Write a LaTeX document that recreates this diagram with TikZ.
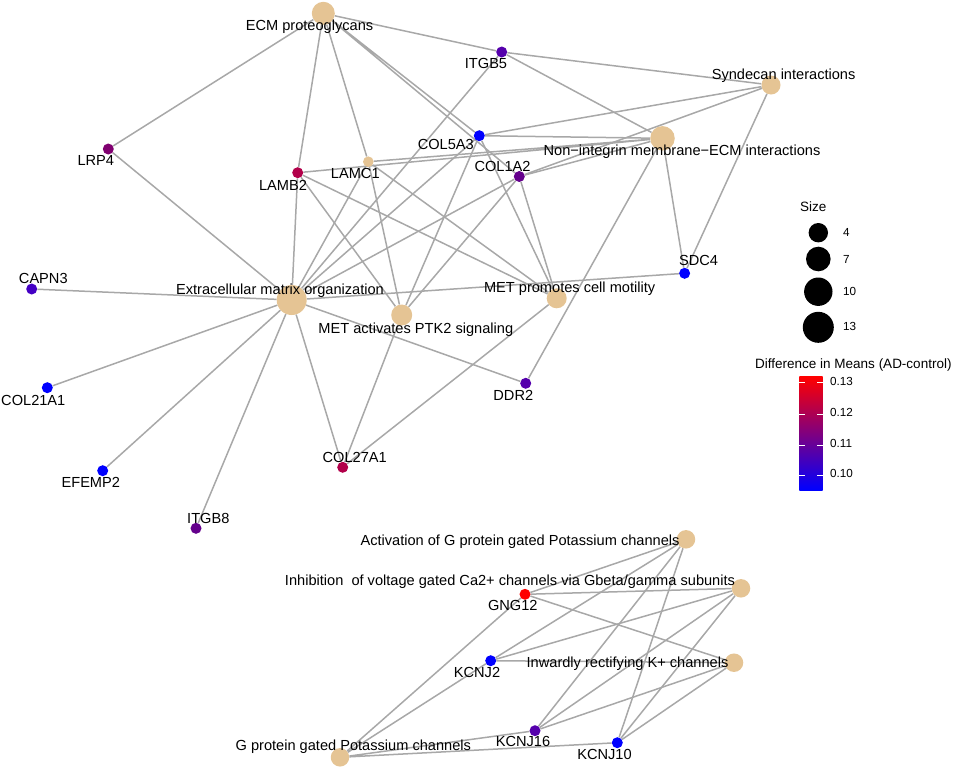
\documentclass[tikz,border=0pt]{standalone}
\usepackage{fontspec}
\setmainfont{Liberation Sans}
\usetikzlibrary{backgrounds}

\definecolor{pwtan}{RGB}{229,196,148}
\definecolor{edgegray}{RGB}{168,168,168}
\definecolor{dmblue}{RGB}{0,0,255}
\definecolor{dmred}{RGB}{255,0,0}
\definecolor{dmcrimson}{RGB}{178,0,74}
\definecolor{dmplum}{RGB}{128,0,112}
\definecolor{dmpurple}{RGB}{100,0,140}
\definecolor{dmviolet}{RGB}{85,0,172}
\definecolor{dmindigo}{RGB}{68,0,196}

\tikzset{
  pw/.style={circle, fill=pwtan, inner sep=0pt, minimum size=#1},
  gene/.style={circle, fill=#1, inner sep=0pt, minimum size=11pt},
  edge/.style={draw=edgegray, line width=1.5pt},
  lbl/.style={inner sep=0pt, anchor=base, font=\fontsize{14.6}{17}\selectfont},
  legtitle/.style={inner sep=0pt, font=\fontsize{13.5}{16}\selectfont},
  legnum/.style={inner sep=0pt, font=\fontsize{11.7}{14}\selectfont},
  sizedot/.style={circle, fill=black, inner sep=0pt, minimum size=#1}
}

\begin{document}
\begin{tikzpicture}[x=1pt, y=-1pt]
  \useasboundingbox (0,0) rectangle (957,769);

  % pathways
  \node[pw=23]   (ecmprot)  at (323.3,13.3) {};
  \node[pw=19]   (syndecan) at (771,85) {};
  \node[pw=24.5] (nonint)   at (662.5,138.3) {};
  \node[pw=30]   (ecmorg)   at (291.7,300) {};
  \node[pw=21]   (ptk2)     at (401.7,315) {};
  \node[pw=20]   (metmot)   at (556.7,298.3) {};
  \node[pw=18.5] (gpact)    at (686,539.3) {};
  \node[pw=18.5] (cainh)    at (741,588.3) {};
  \node[pw=18.5] (kir)      at (734,662.7) {};
  \node[pw=18.5] (gpgate)   at (340,757.3) {};

  % genes
  \node[gene=dmviolet]  (itgb5)   at (501.7,52) {};
  \node[gene=dmblue]    (col5a3)  at (479.3,135.7) {};
  \node[gene=dmpurple]  (col1a2)  at (519.3,176.5) {};
  \node[gene=dmplum]    (lrp4)    at (108.3,149) {};
  \node[gene=dmcrimson] (lamb2)   at (297.7,172.7) {};
  \node[pw=10.6]        (lamc1)   at (368.3,161.7) {};
  \node[gene=dmblue]    (sdc4)    at (684.6,273.3) {};
  \node[gene=dmindigo]  (capn3)   at (31.7,289) {};
  \node[gene=dmblue]    (col21a1) at (47.3,387.7) {};
  \node[gene=dmblue]    (efemp2)  at (102.7,470.7) {};
  \node[gene=dmpurple]  (itgb8)   at (196,528.3) {};
  \node[gene=dmcrimson] (col27a1) at (342.7,467.3) {};
  \node[gene=dmviolet]  (ddr2)    at (525.7,383.3) {};
  \node[gene=dmred]     (gng12)   at (525,594.3) {};
  \node[gene=dmblue]    (kcnj2)   at (490.7,660.7) {};
  \node[gene=dmviolet]  (kcnj16)  at (535,730.7) {};
  \node[gene=dmblue]    (kcnj10)  at (617.3,742.7) {};

  \begin{scope}[on background layer]
    \draw[edge] (ecmprot) -- (lrp4) (ecmprot) -- (lamb2) (ecmprot) -- (lamc1)
      (ecmprot) -- (col5a3) (ecmprot) -- (col1a2) (ecmprot) -- (itgb5);
    \draw[edge] (syndecan) -- (itgb5) (syndecan) -- (col5a3) (syndecan) -- (col1a2)
      (syndecan) -- (sdc4);
    \draw[edge] (nonint) -- (itgb5) (nonint) -- (lamb2) (nonint) -- (lamc1)
      (nonint) -- (col5a3) (nonint) -- (col1a2) (nonint) -- (sdc4) (nonint) -- (ddr2);
    \draw[edge] (ecmorg) -- (itgb5) (ecmorg) -- (lrp4) (ecmorg) -- (lamb2)
      (ecmorg) -- (lamc1) (ecmorg) -- (col5a3) (ecmorg) -- (col1a2) (ecmorg) -- (sdc4)
      (ecmorg) -- (capn3) (ecmorg) -- (col21a1) (ecmorg) -- (efemp2)
      (ecmorg) -- (itgb8) (ecmorg) -- (col27a1) (ecmorg) -- (ddr2);
    \draw[edge] (ptk2) -- (lamb2) (ptk2) -- (lamc1) (ptk2) -- (col5a3)
      (ptk2) -- (col1a2) (ptk2) -- (col27a1);
    \draw[edge] (metmot) -- (lamb2) (metmot) -- (lamc1) (metmot) -- (col5a3)
      (metmot) -- (col1a2) (metmot) -- (col27a1);
    % potassium channels
    \draw[edge] (gpact) -- (gng12) (gpact) -- (kcnj2) (gpact) -- (kcnj16) (gpact) -- (kcnj10);
    \draw[edge] (cainh) -- (gng12) (cainh) -- (kcnj2) (cainh) -- (kcnj16) (cainh) -- (kcnj10);
    \draw[edge] (kir) -- (gng12) (kir) -- (kcnj2) (kir) -- (kcnj16) (kir) -- (kcnj10);
    \draw[edge] (gpgate) -- (gng12) (gpgate) -- (kcnj2) (gpgate) -- (kcnj16) (gpgate) -- (kcnj10);
  \end{scope}

  % labels
  \node[lbl] (tecmprot)  at (309.5,30.5) {ECM proteoglycans};
  \node[lbl] (titgb5)    at (486,68.3) {ITGB5};
  \node[lbl] (tsyndecan) at (783.6,79.3) {Syndecan interactions};
  \node[lbl] (tcol5a3)   at (445.8,149.5) {COL5A3};
  \node[lbl] (tnonint)   at (682,155) {Non−integrin membrane−ECM interactions};
  \node[lbl] (tcol1a2)   at (502.5,171) {COL1A2};
  \node[lbl] (tlrp4)     at (95.8,165) {LRP4};
  \node[lbl] (tlamb2)    at (283,190) {LAMB2};
  \node[lbl] (tlamc1)    at (355.3,178.3) {LAMC1};
  \node[lbl] (tsdc4)     at (698.6,265) {SDC4};
  \node[lbl] (tcapn3)    at (43.3,283.3) {CAPN3};
  \node[lbl] (tecmorg)   at (280,294.3) {Extracellular matrix organization};
  \node[lbl] (tmetmot)   at (569.6,292) {MET promotes cell motility};
  \node[lbl] (tptk2)     at (415.8,333.3) {MET activates PTK2 signaling};
  \node[lbl] (tcol21a1)  at (33.3,405) {COL21A1};
  \node[lbl] (tefemp2)   at (90.8,487.3) {EFEMP2};
  \node[lbl] (titgb8)    at (208.3,523.3) {ITGB8};
  \node[lbl] (tcol27a1)  at (354.7,462.7) {COL27A1};
  \node[lbl] (tddr2)     at (513.3,400) {DDR2};
  \node[lbl] (tgpact)    at (520,545) {Activation of G protein gated Potassium channels};
  \node[lbl] (tcainh)    at (510,585) {Inhibition\ \ of voltage gated Ca2+ channels via Gbeta/gamma subunits};
  \node[lbl] (tgng12)    at (512.8,610.7) {GNG12};
  \node[lbl] (tkcnj2)    at (477,677.3) {KCNJ2};
  \node[lbl] (tkir)      at (627.5,667.3) {Inwardly rectifying K+ channels};
  \node[lbl] (tkcnj16)   at (523,746) {KCNJ16};
  \node[lbl] (tkcnj10)   at (604.5,759.3) {KCNJ10};
  \node[lbl] (tgpgate)   at (353.3,750.7) {G protein gated Potassium channels};

  % legend: size
  \node[legtitle, anchor=base] (sizetitle) at (813.3,211.7) {Size};
  \node[sizedot=19.4] (s4)  at (818.3,232.7) {};
  \node[sizedot=24.6] (s7)  at (818.3,259) {};
  \node[sizedot=28.4] (s10) at (818.3,291.7) {};
  \node[sizedot=31]   (s13) at (818.3,327.3) {};
  \node[legnum, anchor=base west] (ts4)  at (843,236.7) {4};
  \node[legnum, anchor=base west] (ts7)  at (843,263.3) {7};
  \node[legnum, anchor=base west] (ts10) at (843,295) {10};
  \node[legnum, anchor=base west] (ts13) at (843,330.7) {13};

  % legend: colour bar
  \node[legtitle, anchor=base west] (cbtitle) at (755,368.3) {Difference in Means (AD-control)};
  \shade[bottom color=dmblue, top color=dmred] (799.3,376.7) rectangle (822.7,490);
  \draw[white, line width=0.8pt] (799.3,382.7) -- (805,382.7) (817,382.7) -- (822.7,382.7);
  \draw[white, line width=0.8pt] (799.3,414) -- (805,414) (817,414) -- (822.7,414);
  \draw[white, line width=0.8pt] (799.3,445) -- (805,445) (817,445) -- (822.7,445);
  \draw[white, line width=0.8pt] (799.3,475) -- (805,475) (817,475) -- (822.7,475);
  \node[legnum, anchor=mid west] (cb13) at (830,382.7) {0.13};
  \node[legnum, anchor=mid west] (cb12) at (830,414) {0.12};
  \node[legnum, anchor=mid west] (cb11) at (830,445) {0.11};
  \node[legnum, anchor=mid west] (cb10) at (830,475) {0.10};
\end{tikzpicture}
\end{document}
